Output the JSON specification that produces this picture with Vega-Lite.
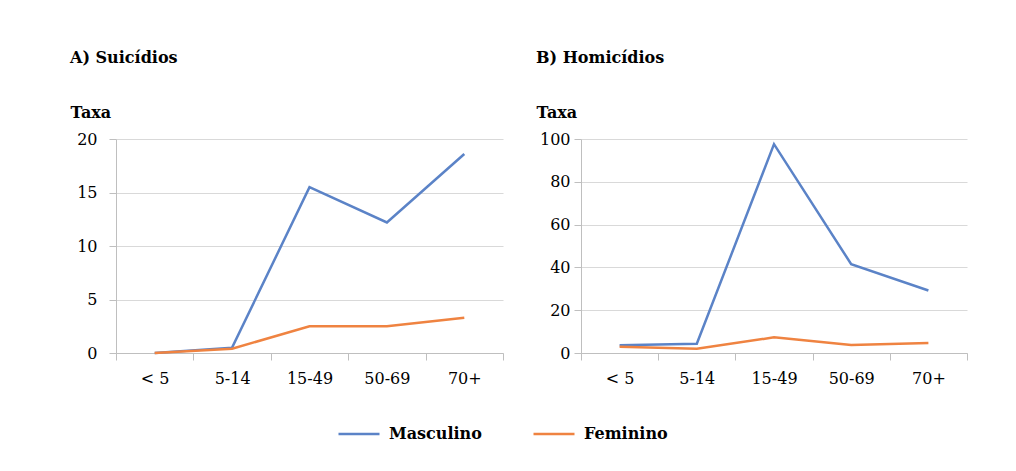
{
  "$schema": "https://vega.github.io/schema/vega-lite/v6.json",
  "padding": {"left": 70, "top": 50, "right": 0, "bottom": 0},
  "background": "white",
  "data": {"values": [
    {"panel": "A", "age": "< 5", "sex": "Masculino", "rate": 0.0},
    {"panel": "A", "age": "5-14", "sex": "Masculino", "rate": 0.5},
    {"panel": "A", "age": "15-49", "sex": "Masculino", "rate": 15.5},
    {"panel": "A", "age": "50-69", "sex": "Masculino", "rate": 12.2},
    {"panel": "A", "age": "70+", "sex": "Masculino", "rate": 18.6},
    {"panel": "A", "age": "< 5", "sex": "Feminino", "rate": 0.0},
    {"panel": "A", "age": "5-14", "sex": "Feminino", "rate": 0.4},
    {"panel": "A", "age": "15-49", "sex": "Feminino", "rate": 2.5},
    {"panel": "A", "age": "50-69", "sex": "Feminino", "rate": 2.5},
    {"panel": "A", "age": "70+", "sex": "Feminino", "rate": 3.3},
    {"panel": "B", "age": "< 5", "sex": "Masculino", "rate": 3.6},
    {"panel": "B", "age": "5-14", "sex": "Masculino", "rate": 4.3},
    {"panel": "B", "age": "15-49", "sex": "Masculino", "rate": 97.6},
    {"panel": "B", "age": "50-69", "sex": "Masculino", "rate": 41.5},
    {"panel": "B", "age": "70+", "sex": "Masculino", "rate": 29.2},
    {"panel": "B", "age": "< 5", "sex": "Feminino", "rate": 2.9},
    {"panel": "B", "age": "5-14", "sex": "Feminino", "rate": 2.0},
    {"panel": "B", "age": "15-49", "sex": "Feminino", "rate": 7.3},
    {"panel": "B", "age": "50-69", "sex": "Feminino", "rate": 3.7},
    {"panel": "B", "age": "70+", "sex": "Feminino", "rate": 4.7}
  ]},
  "config": {
    "font": "DejaVu Serif",
    "view": {"stroke": null},
    "axis": {
      "labelFont": "DejaVu Serif", "labelFontSize": 16, "labelColor": "#000000",
      "domainColor": "#bfbfbf", "tickColor": "#bfbfbf", "gridColor": "#d9d9d9",
      "tickSize": 7, "titleFont": "DejaVu Serif", "titleFontSize": 16, "titleFontWeight": "bold", "titleColor": "#000000"
    },
    "title": {"font": "DejaVu Serif", "fontSize": 16, "fontWeight": "bold", "color": "#000000", "anchor": "start"},
    "legend": {"labelFont": "DejaVu Serif", "labelFontSize": 16, "labelFontWeight": "bold", "labelColor": "#000000"}
  },
  "hconcat": [
    {
      "title": {"text": "A) Suicídios", "dx": -46, "offset": 38, "frame": "group"},
      "width": 387, "height": 214,
      "transform": [{"filter": "datum.panel === 'A'"}],
      "mark": {"type": "line", "strokeWidth": 2.5},
      "encoding": {
        "x": {"field": "age", "type": "nominal", "sort": ["< 5", "5-14", "15-49", "50-69", "70+"],
              "scale": {"paddingInner": 0, "paddingOuter": 0},
              "axis": {"title": null, "labelAngle": 0, "tickBand": "extent", "labelPadding": 10, "grid": false}},
        "y": {"field": "rate", "type": "quantitative", "scale": {"domain": [0, 20]},
              "axis": {"title": "Taxa", "values": [0, 5, 10, 15, 20], "titleAngle": 0, "titleAlign": "left", "titleBaseline": "alphabetic", "titleX": -46, "titleY": -22, "labelPadding": 12}},
        "color": {"field": "sex", "type": "nominal", "sort": ["Masculino", "Feminino"],
                  "scale": {"domain": ["Masculino", "Feminino"], "range": ["#5b83c7", "#ef8341"]},
                  "legend": {"title": null, "orient": "none", "direction": "horizontal", "legendX": 221, "legendY": 273, "symbolType": "stroke", "symbolSize": 1681, "symbolStrokeWidth": 2.5, "columnPadding": 46, "labelOffset": 8}}
      }
    },
    {
      "title": {"text": "B) Homicídios", "dx": -45, "offset": 38, "frame": "group"},
      "width": 386, "height": 214,
      "transform": [{"filter": "datum.panel === 'B'"}],
      "mark": {"type": "line", "strokeWidth": 2.5},
      "encoding": {
        "x": {"field": "age", "type": "nominal", "sort": ["< 5", "5-14", "15-49", "50-69", "70+"],
              "scale": {"paddingInner": 0, "paddingOuter": 0},
              "axis": {"title": null, "labelAngle": 0, "tickBand": "extent", "labelPadding": 10, "grid": false}},
        "y": {"field": "rate", "type": "quantitative", "scale": {"domain": [0, 100]},
              "axis": {"title": "Taxa", "values": [0, 20, 40, 60, 80, 100], "titleAngle": 0, "titleAlign": "left", "titleBaseline": "alphabetic", "titleX": -45, "titleY": -22, "labelPadding": 4}},
        "color": {"field": "sex", "type": "nominal", "sort": ["Masculino", "Feminino"],
                  "scale": {"domain": ["Masculino", "Feminino"], "range": ["#5b83c7", "#ef8341"]}}
      }
    }
  ],
  "spacing": 32
}
